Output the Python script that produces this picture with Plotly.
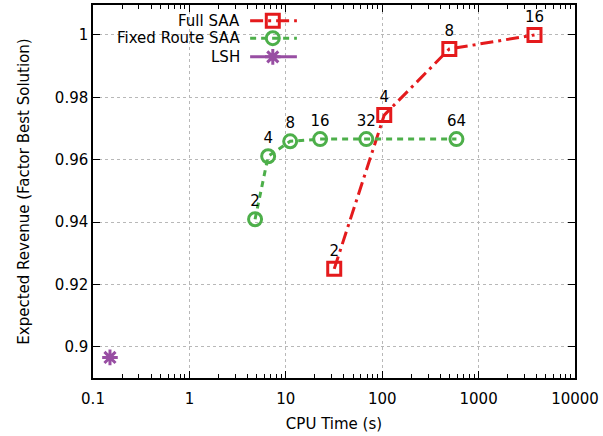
import plotly.graph_objects as go

# data
full_x = [31.8, 105, 497, 3800]
full_y = [0.925, 0.9743, 0.9955, 1.0]
full_lbl = ["2", "4", "8", "16"]

fixed_x = [4.8, 6.56, 11.1, 22.7, 68.4, 589]
fixed_y = [0.9409, 0.9611, 0.9659, 0.9666, 0.9666, 0.9666]
fixed_lbl = ["2", "4", "8", "16", "32", "64"]

lsh_x = [0.15]
lsh_y = [0.8966]

x_ticks = [0.1, 1, 10, 100, 1000, 10000]
x_ticktext = ["0.1", "1", "10", "100", "1000", "10000"]
x_minor = [m * d for d in [0.1, 1, 10, 100, 1000] for m in range(2, 10)]
y_ticks = [0.9, 0.92, 0.94, 0.96, 0.98, 1.0]
y_ticktext = ["0.9", "0.92", "0.94", "0.96", "0.98", "1"]

RED = "#e41a1c"
GREEN = "#4daf4a"
PURPLE = "#984ea3"
FONT = "DejaVu Sans"
FS = 15
MS = 13

fig = go.Figure()

fig.add_trace(go.Scatter(
    x=full_x, y=full_y, text=full_lbl, mode="lines+markers+text",
    textposition="top center", textfont=dict(family=FONT, size=FS, color="black"),
    line=dict(color=RED, width=3, dash="13px,5px,3px,5px"),
    marker=dict(symbol="square-open", size=MS, color=RED, line=dict(width=3, color=RED)),
    showlegend=False, cliponaxis=False))

fig.add_trace(go.Scatter(
    x=fixed_x, y=fixed_y, text=fixed_lbl, mode="lines+markers+text",
    textposition="top center", textfont=dict(family=FONT, size=FS, color="black"),
    line=dict(color=GREEN, width=3, dash="6px,5px"),
    marker=dict(symbol="circle-open", size=MS, color=GREEN, line=dict(width=3, color=GREEN)),
    showlegend=False, cliponaxis=False))

fig.add_trace(go.Scatter(
    x=lsh_x, y=lsh_y, mode="markers",
    marker=dict(symbol="asterisk-open", size=MS, color=PURPLE, line=dict(width=3, color=PURPLE)),
    showlegend=False))

# custom legend (gnuplot style: text left, sample right) on an overlay axis
legend_items = [
    ("Full SAA", RED, "13px,5px,3px,5px", "square-open"),
    ("Fixed Route SAA", GREEN, "6px,5px", "circle-open"),
    ("LSH", PURPLE, "solid", "asterisk-open"),
]
rows = [0.958, 0.911, 0.861]
for (name, col, dash, sym), ry in zip(legend_items, rows):
    fig.add_trace(go.Scatter(
        x=[0.326, 0.423], y=[ry, ry], mode="lines", xaxis="x2", yaxis="y2",
        line=dict(color=col, width=3, dash=dash), showlegend=False, hoverinfo="skip"))
    fig.add_trace(go.Scatter(
        x=[0.373], y=[ry], mode="markers", xaxis="x2", yaxis="y2",
        marker=dict(symbol=sym, size=MS, color=col, line=dict(width=3, color=col)),
        showlegend=False, hoverinfo="skip"))
    fig.add_annotation(x=0.309, y=ry, xref="paper", yref="paper", text=name,
                       showarrow=False, xanchor="right", yanchor="middle",
                       font=dict(family=FONT, size=FS, color="black"))

axis_common = dict(
    showline=True, linecolor="black", linewidth=1.5, mirror="allticks",
    ticks="inside", ticklen=7, tickcolor="black", tickwidth=1.2,
    showgrid=True, gridcolor="#b8b8b8", griddash="dot", gridwidth=1,
    zeroline=False, tickfont=dict(family=FONT, size=FS, color="black"),
    automargin=False,
)

fig.update_layout(
    width=603, height=436,
    margin=dict(l=93, r=28, t=5, b=58),
    paper_bgcolor="white", plot_bgcolor="white",
    font=dict(family=FONT, size=FS, color="black"),
    xaxis=dict(type="log", range=[-1, 4], tickmode="array", tickvals=x_ticks, ticktext=x_ticktext,
               ticklabelstandoff=6,
               title=dict(text="CPU Time (s)", font=dict(family=FONT, size=FS), standoff=12),
               minor=dict(tickmode="array", tickvals=x_minor, ticks="inside", ticklen=4,
                          tickcolor="black", tickwidth=1.2, showgrid=False),
               **axis_common),
    yaxis=dict(range=[0.89, 1.0096], tickmode="array", tickvals=y_ticks, ticktext=y_ticktext,
               title=dict(text="Expected Revenue (Factor Best Solution)", font=dict(family=FONT, size=FS), standoff=22),
               **axis_common),
    xaxis2=dict(overlaying="x", range=[0, 1], visible=False, fixedrange=True),
    yaxis2=dict(overlaying="y", range=[0, 1], visible=False, fixedrange=True),
)

fig.write_html("out.html", config={"displayModeBar": False},
               post_script="document.body.style.margin='0';document.body.style.overflow='hidden';")
